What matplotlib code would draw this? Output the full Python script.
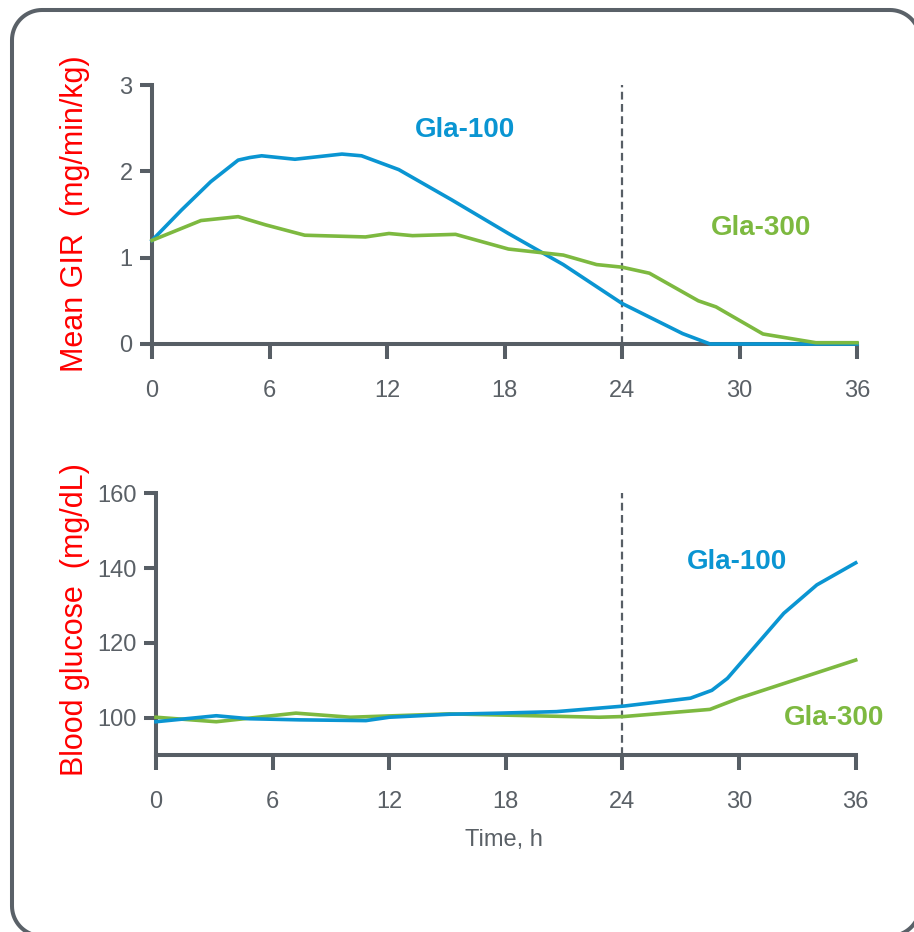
import matplotlib
matplotlib.use("Agg")
import numpy as np
import matplotlib.pyplot as plt
from matplotlib.lines import Line2D

plt.rcParams['font.family'] = ['Liberation Sans', 'DejaVu Sans']

# top panel: mean GIR (mg/min/kg)
gir_t_100 = [0, 1.5, 3, 4.4, 5.0, 5.6, 7.3, 9.7, 10.7, 12.6, 15.3, 18.2, 21.0, 24.0, 27.1, 28.5, 36]
gir_100 = [1.2, 1.55, 1.88, 2.13, 2.16, 2.18, 2.14, 2.2, 2.18, 2.02, 1.67, 1.28, 0.92, 0.47, 0.12, 0.0, 0.0]
gir_t_300 = [0, 2.5, 4.4, 5.8, 7.8, 10.9, 12.1, 13.3, 15.5, 18.2, 21.0, 22.7, 24.0, 25.4, 27.9, 28.8, 31.2, 33.9, 36]
gir_300 = [1.2, 1.43, 1.475, 1.38, 1.26, 1.24, 1.28, 1.255, 1.27, 1.10, 1.03, 0.92, 0.89, 0.82, 0.50, 0.43, 0.116, 0.015, 0.015]

# bottom panel: blood glucose (mg/dL)
bg_t_100 = [0, 3.1, 4.8, 7.4, 10.8, 12.0, 15.1, 17.7, 20.6, 24.1, 27.5, 28.6, 29.4, 32.3, 34.0, 36]
bg_100 = [98.9, 100.5, 99.7, 99.4, 99.2, 100.1, 100.9, 101.2, 101.6, 103.1, 105.2, 107.3, 110.5, 127.9, 135.5, 141.4]
bg_t_300 = [0, 3.1, 7.2, 10.0, 15.1, 22.8, 24.1, 28.5, 30.0, 36]
bg_300 = [100.1, 98.9, 101.2, 100.1, 101.0, 100.1, 100.3, 102.2, 105.2, 115.4]

x_ticks = [0, 6, 12, 18, 24, 30, 36]
gir_ticks = [0, 1, 2, 3]
bg_ticks = [100, 120, 140, 160]

blue = "#0a95d2"
green = "#7db940"
grey = "#575e65"
txt_grey = "#5a6066"

W, H = 914, 932
fig = plt.figure(figsize=(W / 100, H / 100), dpi=100)

# rounded frame: corners in pixels from top-left, right/bottom edges fall off the canvas
x0, x1, y0, y1, r = 12, 920, 10, 936, 30
pts = []
for cx, cy, a0 in [(x1 - r, y0 + r, 90), (x0 + r, y0 + r, 180), (x0 + r, y1 - r, 270), (x1 - r, y1 - r, 0)]:
    a = np.radians(np.linspace(a0 - 90, a0, 20))
    pts.append(np.column_stack([cx + r * np.cos(a), cy - r * np.sin(a)]))
pts = np.vstack(pts + [pts[0][:1]])
fig.add_artist(Line2D(pts[:, 0] / W, 1 - pts[:, 1] / H, transform=fig.transFigure,
                      color="#5a6168", lw=2.9, solid_joinstyle='round'))

ax1 = fig.add_axes([152 / W, 1 - 344 / H, 705 / W, 259 / H])
ax2 = fig.add_axes([156 / W, 1 - 755 / H, 699.7 / W, 261.7 / H])


def style(ax):
    for s in ['top', 'right']:
        ax.spines[s].set_visible(False)
    for s in ['left', 'bottom']:
        ax.spines[s].set_color(grey)
        ax.spines[s].set_linewidth(2.9)
    ax.tick_params(axis='x', direction='out', length=11, width=2.9, color=grey,
                   labelsize=17, labelcolor=txt_grey, pad=15)
    ax.tick_params(axis='y', direction='out', length=9, width=2.9, color=grey,
                   labelsize=17, labelcolor=txt_grey, pad=5)
    ax.set_xlim(0, 36)
    ax.set_xticks(x_ticks)
    ax.axvline(24, color=grey, lw=1.6, ls=(0, (3.5, 2)), zorder=1)


style(ax1)
ax1.set_ylim(0, 3)
ax1.set_yticks(gir_ticks)
ax1.plot(gir_t_100, gir_100, color=blue, lw=2.6, clip_on=False, zorder=3, solid_joinstyle='round')
ax1.plot(gir_t_300, gir_300, color=green, lw=2.6, clip_on=False, zorder=3, solid_joinstyle='round')
ax1.text(16.0, 2.48, "Gla-100", color=blue, fontsize=20, fontweight='bold', ha='center', va='center')
ax1.text(31.1, 1.34, "Gla-300", color=green, fontsize=20, fontweight='bold', ha='center', va='center')

style(ax2)
ax2.set_ylim(90, 160)
ax2.set_yticks(bg_ticks)
ax2.plot(bg_t_300, bg_300, color=green, lw=2.6, clip_on=False, zorder=3, solid_joinstyle='round')
ax2.plot(bg_t_100, bg_100, color=blue, lw=2.6, clip_on=False, zorder=3, solid_joinstyle='round')
ax2.text(29.9, 141.6, "Gla-100", color=blue, fontsize=20, fontweight='bold', ha='center', va='center')
ax2.text(34.9, 99.9, "Gla-300", color=green, fontsize=20, fontweight='bold', ha='center', va='center')

fig.text(75 / W, 1 - 214 / H, "Mean GIR  (mg/min/kg)", color="red", fontsize=22,
         rotation=90, ha='center', va='center')
fig.text(75 / W, 1 - 620 / H, "Blood glucose  (mg/dL)", color="red", fontsize=22,
         rotation=90, ha='center', va='center')
fig.text(504 / W, 1 - 840 / H, "Time, h", color=txt_grey, fontsize=17, ha='center', va='center')

fig.savefig("out.png", dpi=100)
